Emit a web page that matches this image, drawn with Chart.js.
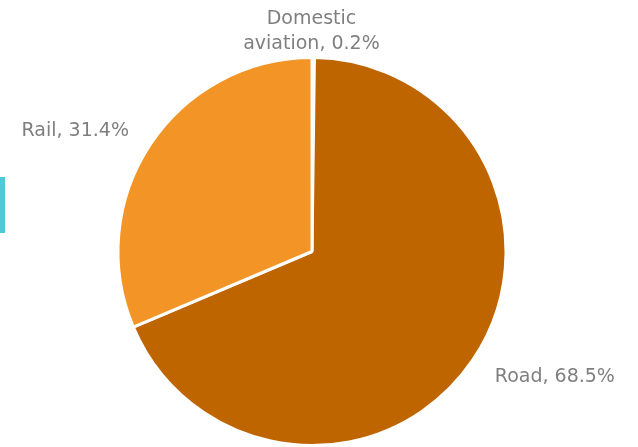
<!DOCTYPE html>
<html>
<head>
<meta charset="utf-8">
<script src="https://cdn.jsdelivr.net/npm/chart.js@4/dist/chart.umd.min.js"></script>
<style>
  html, body { margin: 0; padding: 0; background: #fff; }
  #wrap { position: relative; width: 638px; height: 447px; }
  #accent { position: absolute; left: 0; top: 177px; width: 5px; height: 56px; background: #4EC9D5; }
</style>
</head>
<body>
<div id="wrap">
  <div id="accent"></div>
  <canvas id="pieChart" width="638" height="447"></canvas>
</div>
<script>
var labels = ["Domestic aviation", "Road", "Rail"];
var shares = [0.2, 68.5, 31.4];
var colors = ["#ffffff", "#BF6500", "#F29526"];

// where each label sits, relative to its slice's mid angle
var labelDist = [1.135, 1.41, 1.37];
var labelTurn = [-0.5, -6.5, -6.5]; // degrees
var labelLines = [["Domestic", "aviation, 0.2%"], ["Road, 68.5%"], ["Rail, 31.4%"]];

var labelPlugin = {
    id: 'sliceLabels',
    afterDraw: function(chart) {
        var ctx = chart.ctx;
        var arcs = chart.getDatasetMeta(0).data;
        ctx.save();
        ctx.fillStyle = "#7F7F7F";
        ctx.font = "19px 'DejaVu Sans'";
        ctx.textAlign = "center";
        ctx.textBaseline = "middle";
        arcs.forEach(function(arc, i) {
            var mid = (arc.startAngle + arc.endAngle) / 2 + labelTurn[i] * Math.PI / 180;
            var r = arc.outerRadius * labelDist[i];
            var x = arc.x + Math.cos(mid) * r;
            var y = arc.y + Math.sin(mid) * r;
            var lines = labelLines[i];
            var lh = 25;
            lines.forEach(function(t, k) {
                ctx.fillText(t, x, y + (k - (lines.length - 1) / 2) * lh);
            });
        });
        ctx.restore();
    }
};

var config = {
    type: 'pie',
    data: {
        labels: labels,
        datasets: [{
            data: shares,
            backgroundColor: colors,
            borderColor: "#ffffff",
            borderWidth: 3
        }]
    },
    options: {
        responsive: false,
        animation: false,
        layout: {
            padding: { left: 115, right: 129, top: 56, bottom: 0 }
        },
        plugins: {
            legend: { display: false },
            tooltip: { enabled: false }
        }
    },
    plugins: [labelPlugin]
};

var ctx = document.getElementById("pieChart").getContext("2d");
var mychart = new Chart(ctx, config);
</script>
</body>
</html>
